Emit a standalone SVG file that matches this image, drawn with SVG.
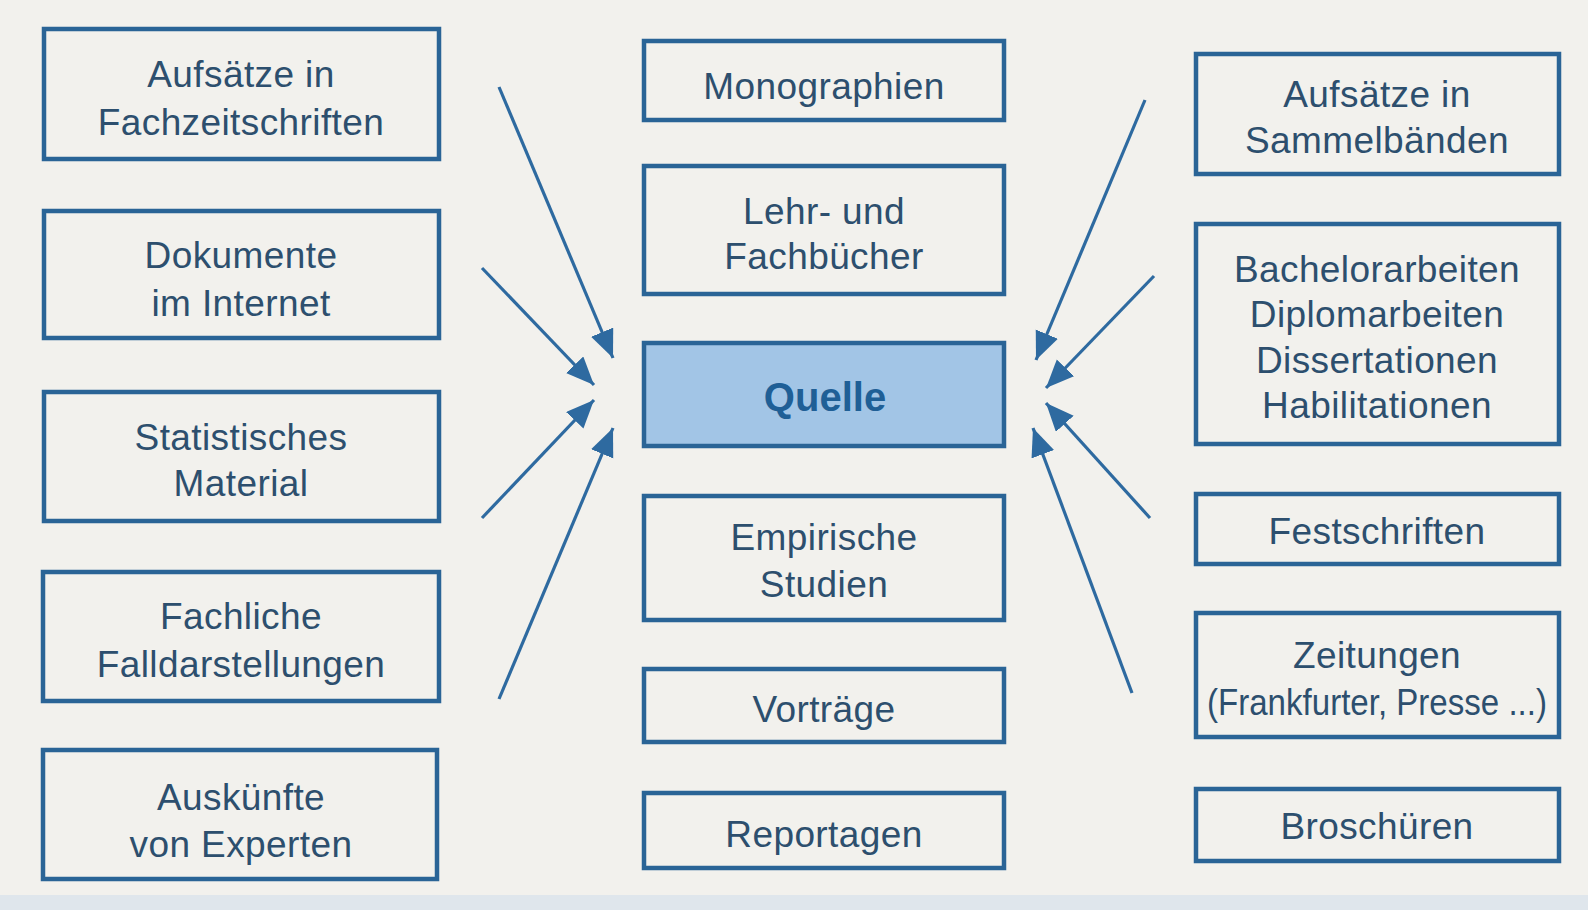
<svg xmlns="http://www.w3.org/2000/svg" width="1588" height="910" viewBox="0 0 1588 910">
<style>
.box{fill:none;stroke:#2a6496;stroke-width:4.5}
.t{font-family:"Liberation Sans",Arial,sans-serif;font-size:37px;fill:#2d4f6e;text-anchor:middle;letter-spacing:0.4px}
.q{font-family:"Liberation Sans",Arial,sans-serif;font-size:40px;font-weight:bold;fill:#1f5f96;text-anchor:middle}
.c{stroke:#2e6aa0;stroke-width:3.2;fill:none;marker-end:url(#ah)}
</style>
<defs>
<marker id="ah" markerUnits="userSpaceOnUse" markerWidth="30" markerHeight="26" refX="28" refY="12" orient="auto">
<path d="M0,0 L28,12 L0,24 Z" fill="#2e6aa0"/>
</marker>
</defs>
<rect x="0" y="0" width="1588" height="910" fill="#f2f1ed"/>
<rect x="0" y="895" width="1588" height="15" fill="#dfe6ec"/>
<g id="n-aufsaetze-fach"><rect class="box" x="44" y="29" width="395" height="130"/><text class="t" x="241" y="87">Aufsätze in</text><text class="t" x="241" y="135">Fachzeitschriften</text></g>
<g id="n-dokumente"><rect class="box" x="44" y="211" width="395" height="127"/><text class="t" x="241" y="268">Dokumente</text><text class="t" x="241" y="316">im Internet</text></g>
<g id="n-statistisches"><rect class="box" x="44" y="392" width="395" height="129"/><text class="t" x="241" y="450">Statistisches</text><text class="t" x="241" y="496">Material</text></g>
<g id="n-fachliche"><rect class="box" x="43" y="572" width="396" height="129"/><text class="t" x="241" y="629">Fachliche</text><text class="t" x="241" y="677">Falldarstellungen</text></g>
<g id="n-auskuenfte"><rect class="box" x="43" y="750" width="394" height="129"/><text class="t" x="241" y="810">Auskünfte</text><text class="t" x="241" y="857">von Experten</text></g>
<g id="n-monographien"><rect class="box" x="644" y="41" width="360" height="79"/><text class="t" x="824" y="99">Monographien</text></g>
<g id="n-lehr"><rect class="box" x="644" y="166" width="360" height="128"/><text class="t" x="824" y="224">Lehr- und</text><text class="t" x="824" y="269">Fachbücher</text></g>
<g id="n-quelle"><rect x="644" y="343" width="360" height="103" fill="#a2c5e6" stroke="#2a6496" stroke-width="4.5"/><text class="q" x="825" y="411">Quelle</text></g>
<g id="n-empirische"><rect class="box" x="644" y="496" width="360" height="124"/><text class="t" x="824" y="550">Empirische</text><text class="t" x="824" y="597">Studien</text></g>
<g id="n-vortraege"><rect class="box" x="644" y="669" width="360" height="73"/><text class="t" x="824" y="722">Vorträge</text></g>
<g id="n-reportagen"><rect class="box" x="644" y="793" width="360" height="75"/><text class="t" x="824" y="847">Reportagen</text></g>
<g id="n-aufsaetze-sammel"><rect class="box" x="1196" y="54" width="363" height="120"/><text class="t" x="1377" y="107">Aufsätze in</text><text class="t" x="1377" y="153">Sammelbänden</text></g>
<g id="n-bachelor"><rect class="box" x="1196" y="224" width="363" height="220"/><text class="t" x="1377" y="282">Bachelorarbeiten</text><text class="t" x="1377" y="327">Diplomarbeiten</text><text class="t" x="1377" y="373">Dissertationen</text><text class="t" x="1377" y="418">Habilitationen</text></g>
<g id="n-festschriften"><rect class="box" x="1196" y="494" width="363" height="70"/><text class="t" x="1377" y="544">Festschriften</text></g>
<g id="n-zeitungen"><rect class="box" x="1196" y="613" width="363" height="124"/><text class="t" x="1377" y="668">Zeitungen</text><text class="t" x="1377" y="715" style="letter-spacing:0" textLength="340" lengthAdjust="spacingAndGlyphs">(Frankfurter, Presse ...)</text></g>
<g id="n-broschueren"><rect class="box" x="1196" y="789" width="363" height="72"/><text class="t" x="1377" y="839">Broschüren</text></g>
<g id="connectors">
<line class="c" x1="499" y1="87" x2="613" y2="358"/>
<line class="c" x1="482" y1="268" x2="594" y2="385"/>
<line class="c" x1="482" y1="518" x2="594" y2="400"/>
<line class="c" x1="499" y1="699" x2="613" y2="428"/>
<line class="c" x1="1145" y1="100" x2="1036" y2="360"/>
<line class="c" x1="1154" y1="276" x2="1046" y2="388"/>
<line class="c" x1="1150" y1="518" x2="1046" y2="403"/>
<line class="c" x1="1132" y1="693" x2="1033" y2="428"/>
</g>
</svg>
